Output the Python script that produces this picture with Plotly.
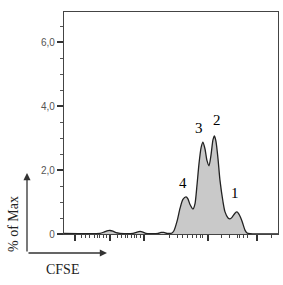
import plotly.graph_objects as go

# CFSE channel values and % of Max
cfse = [0, 172, 191, 206, 220, 234, 249, 268, 330, 349, 364, 378, 392, 450, 464, 478, 493,
        517, 526, 541, 555, 569, 584, 593, 603, 617, 627, 636, 646, 656, 665, 675, 684, 694,
        703, 713, 720, 727, 737, 746, 761, 770, 785, 794, 804, 818, 828, 837, 852, 866, 876,
        890, 1024]
pct_max = [0.02, 0.02, 0.06, 0.1, 0.11, 0.09, 0.04, 0.02, 0.02, 0.06, 0.08, 0.06, 0.02, 0.02,
           0.05, 0.05, 0.02, 0.03, 0.1, 0.4, 0.8, 1.08, 1.16, 1.1, 0.92, 0.78, 0.95, 1.5, 2.2,
           2.7, 2.87, 2.65, 2.3, 2.13, 2.45, 2.95, 3.07, 2.9, 2.35, 1.7, 1.0, 0.7, 0.5, 0.47,
           0.52, 0.65, 0.69, 0.62, 0.4, 0.12, 0.03, 0.01, 0.0]

peak_labels = ["4", "3", "2", "1"]
peak_x = [569, 646, 732, 818]
peak_y = [1.59, 3.31, 3.56, 1.28]

y_tickvals = [0, 2, 4, 6]
y_ticktext = ["0", "2,0", "4,0", "6,0"]

x_major = [53, 220, 383, 689, 923]
x_minor = [86, 105, 124, 144, 158, 172, 187, 201,
           254, 273, 292, 306, 321, 335, 349, 364,
           507, 541, 569, 593, 617, 636, 651, 665,
           756, 794, 828, 842, 857, 876, 995]

fig = go.Figure()
fig.add_trace(go.Scatter(
    x=cfse, y=pct_max, mode="lines", fill="tozeroy",
    fillcolor="#c9c9c9", line=dict(color="#222222", width=1.3, shape="spline", smoothing=0.6),
    hoverinfo="skip", showlegend=False))

for t, x, y in zip(peak_labels, peak_x, peak_y):
    fig.add_annotation(x=x, y=y, text=t, showarrow=False,
                       font=dict(family="Liberation Serif", size=15, color="black"))

# axis-direction arrows
fig.add_annotation(xref="paper", yref="paper", x=-0.1729, y=0.2748, ax=0, ay=80,
                   text="", showarrow=True, arrowhead=2, arrowsize=1.1, arrowwidth=1.3,
                   arrowcolor="#333")
fig.add_annotation(xref="paper", yref="paper", x=0.2009, y=-0.0856, ax=-80, ay=0,
                   text="", showarrow=True, arrowhead=2, arrowsize=1.1, arrowwidth=1.3,
                   arrowcolor="#333")
fig.add_annotation(xref="paper", yref="paper", x=-0.2383, y=0.045, text="% of Max",
                   textangle=-90, showarrow=False, xanchor="center", yanchor="middle",
                   font=dict(family="Liberation Serif", size=14, color="#222"))
fig.add_annotation(xref="paper", yref="paper", x=-0.0047, y=-0.162, text="CFSE",
                   showarrow=False, xanchor="center", yanchor="middle",
                   font=dict(family="Liberation Serif", size=14, color="#222"))

fig.update_layout(
    width=283, height=285,
    margin=dict(l=64, r=5, t=12, b=51),
    paper_bgcolor="white", plot_bgcolor="white",
    xaxis=dict(range=[0, 1024], showgrid=False, zeroline=False,
               showline=True, linecolor="#444", linewidth=1.3, mirror=True,
               tickmode="array", tickvals=x_major, showticklabels=False,
               ticks="outside", ticklen=6, tickwidth=1.5, tickcolor="#333",
               minor=dict(tickmode="array", tickvals=x_minor, ticks="outside",
                          ticklen=3, tickwidth=1, tickcolor="#444")),
    yaxis=dict(range=[0, 6.94], showgrid=False, zeroline=False,
               showline=True, linecolor="#444", linewidth=1.3, mirror=True,
               tickmode="array", tickvals=y_tickvals, ticktext=y_ticktext,
               ticks="outside", ticklen=6, tickwidth=2, tickcolor="#333",
               tickfont=dict(family="Liberation Sans", size=10, color="#555"),
               minor=dict(dtick=0.5, ticks="outside", ticklen=3, tickwidth=1,
                          tickcolor="#555")),
)

fig.write_html("out.html")
